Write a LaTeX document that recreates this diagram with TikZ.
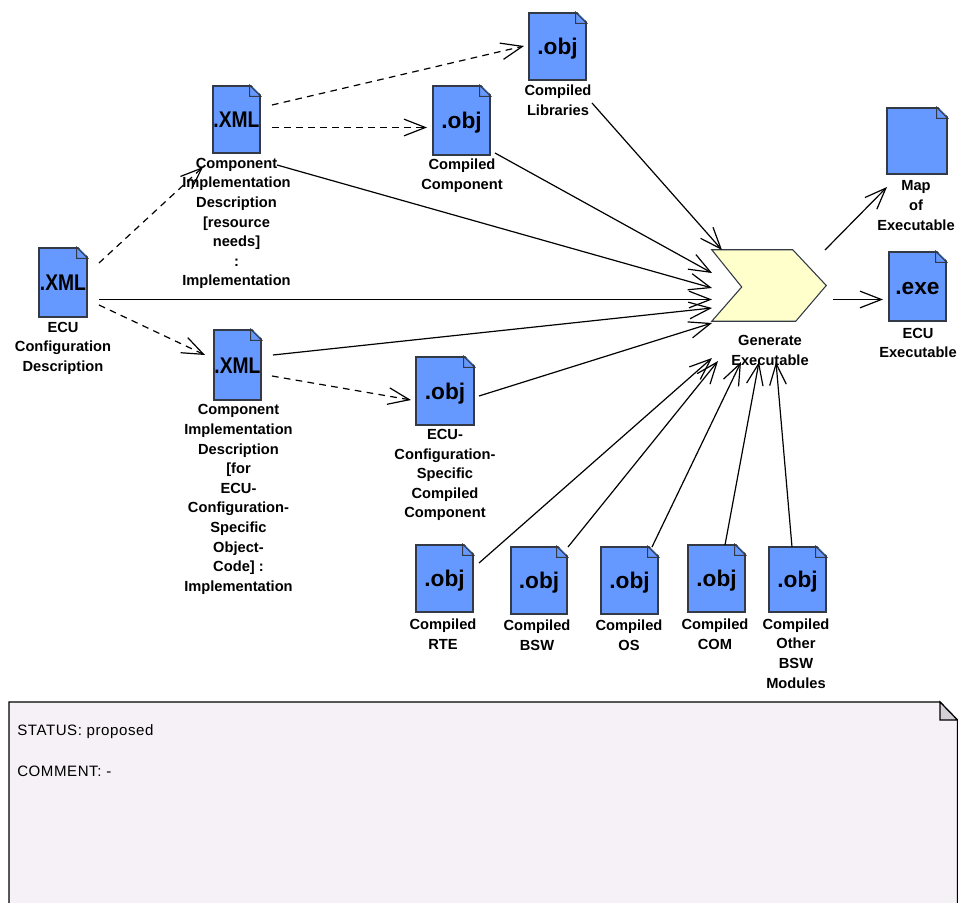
\documentclass[tikz,border=0pt]{standalone}
\usepackage{fontspec}
\setmainfont{Liberation Sans}
\usetikzlibrary{arrows.meta}
\definecolor{docblue}{HTML}{6699FF}
\definecolor{docedge}{HTML}{333A45}
\definecolor{genfill}{HTML}{FFFFCC}
\definecolor{notefill}{HTML}{F6F1F6}
\definecolor{foldfill}{HTML}{D4CFD6}
\tikzset{
  x=0.75pt,y=-0.75pt,
  docbody/.style={draw=docedge,fill=docblue,line width=1pt,inner sep=0pt,text=black,font=\fontsize{17}{18}\bfseries\selectfont},
  docfold/.style={draw=docedge,fill=docblue,line width=0.8pt},
  caption/.style={align=center,inner sep=0pt,text=black,font=\fontsize{11}{14.7}\bfseries\selectfont},
  notetext/.style={anchor=west,inner sep=0pt,text=black,font=\fontsize{11.3}{12}\selectfont\addfontfeatures{LetterSpace=3.7}},
  solidlink/.style={draw=black,line width=0.9pt,-{Straight Barb[length=16pt,width=12.5pt,line width=0.9pt]}},
  dashlink/.style={solidlink,dash pattern=on 5pt off 4pt},
}
% name, cx, cy, w, h, big text, caption x, caption y, caption text
\newcommand{\artifact}[9]{%
  \node[docbody,minimum width=#4*0.75pt,minimum height=#5*0.75pt] (#1) at (#2,#3) {\raisebox{-6pt}[0pt][0pt]{#6}};
  \fill[white] ([shift={(-10,-1)}]#1.north east) -- ([shift={(1,-1)}]#1.north east) -- ([shift={(1,10)}]#1.north east) -- cycle;
  \draw[docfold] ([shift={(-11,0)}]#1.north east) -- ([shift={(-11,11)}]#1.north east) -- ([shift={(0,11)}]#1.north east) -- cycle;
  \node[caption] (#1-caption) at (#7,#8) {#9};
}
\newcommand{\linkto}[5]{\draw[#1] ([shift={(#3)}]#2.center) -- ([shift={(#5)}]#4.center);}
\begin{document}
\begin{tikzpicture}
\useasboundingbox (0,0) rectangle (958,903);
\begin{scope}
\clip (0,0) rectangle (958,903);
% note
\draw[draw=black,fill=notefill,line width=0.9pt] (9,915) -- (9,702) -- (940,702) -- (957.5,720) -- (957.5,915);
\draw[draw=black,fill=foldfill,line width=0.9pt] (940,702) -- (940,720) -- (957.5,720) -- cycle;
\node[notetext] (status) at (17,731.5) {STATUS: proposed};
\node[notetext] (comment) at (17,771.5) {COMMENT: -};
% artifacts
\artifact{ecu}{63}{282.5}{48}{69}{\scalebox{0.85}[1]{.XML}}{63}{348}{ECU\\Configuration\\Description}
\artifact{ci1}{236.5}{119.5}{47}{67}{\scalebox{0.85}[1]{.XML}}{236.5}{223.5}{Component\\Implementation\\Description\\[0pt][resource\\needs]\\:\\Implementation}
\artifact{ci2}{237.5}{365}{47}{70}{\scalebox{0.85}[1]{.XML}}{238.5}{499.5}{Component\\Implementation\\Description\\[0pt][for\\ECU-\\Configuration-\\Specific\\Object-\\Code] :\\Implementation}
\artifact{comp}{461.5}{120.5}{57}{69}{.obj}{462}{176}{Compiled\\Component}
\artifact{lib}{557.5}{46.5}{57}{67}{.obj}{558}{100}{Compiled\\Libraries}
\artifact{map}{917}{141}{60}{66}{}{916}{205.5}{Map\\of\\Executable}
\artifact{exe}{917.5}{286.5}{57}{69}{.exe}{918}{343}{ECU\\Executable}
\artifact{cobj}{445}{391}{58}{68}{.obj}{445}{475}{ECU-\\Configuration-\\Specific\\Compiled\\Component}
\artifact{rte}{444.5}{578.5}{57}{67}{.obj}{443}{634}{Compiled\\RTE}
\artifact{bsw}{539}{580.5}{56}{67}{.obj}{537}{635}{Compiled\\BSW}
\artifact{os}{629.5}{580.5}{57}{67}{.obj}{629}{635}{Compiled\\OS}
\artifact{com}{716.5}{578.5}{57}{67}{.obj}{715}{634}{Compiled\\COM}
\artifact{oth}{797.5}{579.5}{57}{65}{.obj}{796}{653.5}{Compiled\\Other\\BSW\\Modules}
% generate executable
\node[minimum width=114*0.75pt,minimum height=71*0.75pt,inner sep=0pt] (gen) at (769,285.5) {};
\draw[draw=docedge,fill=genfill,line width=0.8pt] (gen.north west) -- ([shift={(81,0)}]gen.north west) -- (gen.east) -- ([shift={(84,0)}]gen.south west) -- (gen.south west) -- ([shift={(30,1.5)}]gen.west) -- cycle;
\node[caption] (gen-caption) at (770,350.5) {Generate\\Executable};
% connectors
\linkto{dashlink}{ecu}{36,-19.5}{ci1}{-33.5,47.5}
\linkto{solidlink}{ecu}{36,17}{gen}{-57,14}
\linkto{dashlink}{ecu}{36,22.5}{ci2}{-32.5,-10}
\linkto{dashlink}{ci1}{35.5,-14.5}{lib}{-33.5,-0.5}
\linkto{dashlink}{ci1}{35.5,8}{comp}{-34.5,7}
\linkto{solidlink}{ci1}{40.5,45.5}{gen}{-57,2.5}
\linkto{solidlink}{comp}{33.5,32.5}{gen}{-57,-12.5}
\linkto{solidlink}{ci2}{35.5,-10}{gen}{-57,22.5}
\linkto{solidlink}{cobj}{34,5}{gen}{-57,37.5}
\linkto{solidlink}{lib}{34.5,56.5}{gen}{-47,-35.5}
\linkto{solidlink}{gen}{56,-35.5}{map}{-30,46}
\linkto{solidlink}{gen}{64,14}{exe}{-34.5,13}
\linkto{dashlink}{ci2}{34.5,11}{cobj}{-34,9}
\linkto{solidlink}{rte}{34.5,-15.5}{gen}{-57,72.5}
\linkto{solidlink}{bsw}{29,-33.5}{gen}{-51,75.5}
\linkto{solidlink}{os}{22.5,-33.5}{gen}{-28,76.5}
\linkto{solidlink}{com}{8.5,-33.5}{gen}{-10,76.5}
\linkto{solidlink}{oth}{-5.5,-32.5}{gen}{7,76.5}
\end{scope}
\end{tikzpicture}
\end{document}
